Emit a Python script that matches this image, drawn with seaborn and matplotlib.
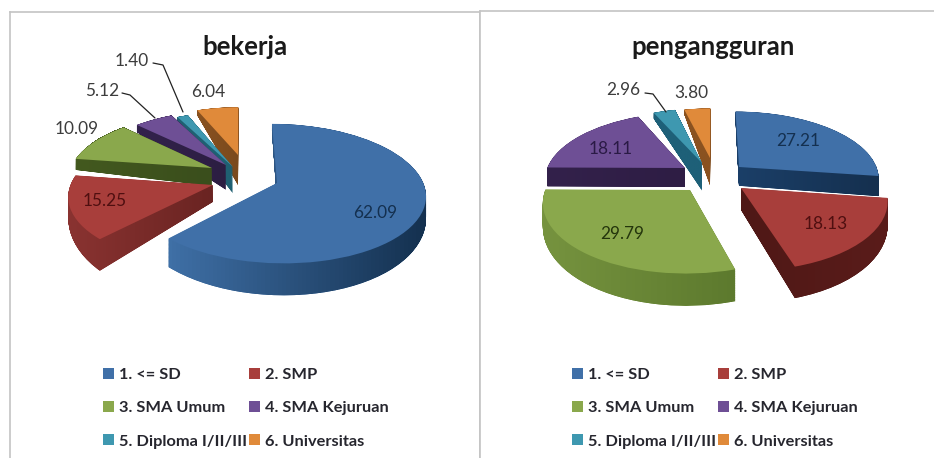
import numpy as np
import matplotlib
matplotlib.use("Agg")
import matplotlib.pyplot as plt
from matplotlib.path import Path
from matplotlib.transforms import Transform
import seaborn as sns

kategori = ["1. <= SD", "2. SMP", "3. SMA Umum", "4. SMA Kejuruan", "5. Diploma I/II/III", "6. Universitas"]
bekerja = [62.09, 15.25, 10.09, 5.12, 1.40, 6.04]
pengangguran = [27.21, 18.13, 29.79, 18.11, 2.96, 3.80]

warna = ["#4070A8", "#A83E3B", "#8AA84C", "#6E4F95", "#3E98B0", "#E08A3A"]
# warna sisi (kiri, kanan)
sisi1 = [("#3F70A6", "#14304F"), ("#8A3331", "#6A2422"), ("#43591F", "#3A4E1C"),
         ("#33224C", "#2C1E42"), ("#1F6072", "#1F6072"), ("#8A5220", "#7A4A1E")]
sisi2 = [("#1B3F68", "#15304F"), ("#4F1816", "#5A1C1A"), ("#76933F", "#5D7A2E"),
         ("#33214B", "#2E1D44"), ("#1E6078", "#1E6078"), ("#8A5220", "#8A5220")]

sns.set_theme(style="white")
plt.rcParams["font.family"] = ["Lato", "DejaVu Sans"]


class Proyeksi(Transform):
    # bidang pie -> piksel, dengan perspektif
    input_dims = 2
    output_dims = 2

    def __init__(self, cx, cy, a, b, k, z=0, m=0):
        super().__init__()
        self.cx, self.cy, self.a, self.b, self.k, self.z, self.m = cx, cy, a, b, k, z, m

    def transform_non_affine(self, xy):
        xy = np.asarray(xy)
        w = 1 + self.k * xy[:, 1]
        sx = self.cx + self.a * xy[:, 0] / w
        sy = self.cy - self.b * xy[:, 1] / w + self.z * np.clip(1 - self.m * xy[:, 1], 0, None)
        return np.column_stack([sx, sy])

    def transform_path_non_affine(self, path):
        return Path(self.transform_non_affine(path.vertices), path.codes)


def ke_bidang(px, py, cx, cy, a, b, k):
    d = cy - py
    y = d / (b - k * d)
    x = (px - cx) * (1 + k * y) / a
    return x, y


def gambar_pie(ax, nilai, puncak, jari, urutan, sisi, tebal, geom):
    cx, cy, a, b, k = geom
    pusat = [ke_bidang(p[0], p[1], cx, cy, a, b, k) for p in puncak]
    kumpulan = [[] for _ in nilai]
    for t in np.arange(1, 0, -0.02):
        wedges, _ = ax.pie(nilai, startangle=90, counterclock=False, colors=[s[0] for s in sisi])
        for i, w in enumerate(wedges):
            proy = Proyeksi(cx, cy, a, b, k, t * tebal[i][0], tebal[i][1])
            w.set_center(pusat[i])
            w.set_radius(jari[i])
            w.set_transform(proy + ax.transData)
            w.set_zorder(urutan[i] + 0.1)
            w.set_clip_on(False)
            w.set_linewidth(0)
            kumpulan[i].append(proy.transform_path(w.get_path()))
    wedges, _ = ax.pie(nilai, startangle=90, counterclock=False, colors=warna)
    proy = Proyeksi(cx, cy, a, b, k)
    for i, w in enumerate(wedges):
        w.set_center(pusat[i])
        w.set_radius(jari[i])
        w.set_transform(proy + ax.transData)
        w.set_zorder(urutan[i] + 0.5)
        w.set_clip_on(False)
        w.set_linewidth(0)
    # gradasi di sisi
    for i, paths in enumerate(kumpulan):
        gab = Path.make_compound_path(*paths)
        x0, y0 = gab.vertices.min(axis=0)
        x1, y1 = gab.vertices.max(axis=0)
        c0 = np.array(matplotlib.colors.to_rgb(sisi[i][0]))
        c1 = np.array(matplotlib.colors.to_rgb(sisi[i][1]))
        g = np.linspace(0, 1, 64)[None, :, None]
        img = ax.imshow(c0 + (c1 - c0) * g, extent=[x0, x1, y1, y0], aspect="auto",
                        zorder=urutan[i] + 0.3)
        img.set_clip_path(gab, ax.transData)
    return wedges


def buat_panel(rect, judul, jx, nilai, puncak, jari, urutan, sisi, tebal, geom, posisi, warna_teks, garis, lx, spines):
    fig_w, fig_h = 934, 458
    x0, y0, x1, y1 = rect
    ax = fig.add_axes([x0 / fig_w, 1 - y1 / fig_h, (x1 - x0) / fig_w, (y1 - y0) / fig_h])
    wedges = gambar_pie(ax, nilai, puncak, jari, urutan, sisi, tebal, geom)
    ax.set_aspect("auto")
    ax.set_xlim(x0, x1)
    ax.set_ylim(y1, y0)
    ax.set_xticks([])
    ax.set_yticks([])
    ax.set_frame_on(True)
    for nama, s in ax.spines.items():
        s.set_visible(nama in spines)
        s.set_color("#C4C4C4")
        s.set_linewidth(1.2)
    ax.text(jx, 47, judul, ha="center", va="center", fontsize=18.5, fontweight="bold", color="#1A1A1A")
    for v, p, c in zip(nilai, posisi, warna_teks):
        ax.text(p[0], p[1] + 2, f"{v:.2f}", ha="center", va="center", fontsize=12.4, color=c, zorder=20)
    for g in garis:
        ax.plot([t[0] for t in g], [t[1] for t in g], color="#222222", lw=0.9, zorder=20)
    urut = [0, 2, 4, 1, 3, 5]
    leg = ax.legend([wedges[i] for i in urut], [kategori[i] for i in urut], ncol=2, frameon=False,
                    loc="upper left", bbox_to_anchor=(lx, 1 - (368 - y0) / (y1 - y0)),
                    bbox_transform=ax.transAxes, borderpad=0, borderaxespad=0,
                    handlelength=0.65, handleheight=0.65, handletextpad=0.3,
                    labelspacing=1.16, columnspacing=0.15,
                    prop={"size": 11.8, "weight": "bold"})
    for t in leg.get_texts():
        t.set_color("#26262E")
    return ax


fig = plt.figure(figsize=(9.34, 4.58), dpi=100, facecolor="white")

buat_panel((10, 12, 480, 458), "bekerja", 245, bekerja,
           [(277, 183), (213, 185), (212, 168), (226, 165), (233, 167), (238, 155)],
           [1, 0.97, 1, 1, 1, 0.9], [6, 5, 4, 3, 2, 1], sisi1,
           [(18, 0.7), (14, 1.5), (24, 2.0), (29, 0.86), (30, 0.86), (40, 0.75)],
           (239, 176, 144, 66, 0.15),
           [(375, 211), (105, 199), (77, 127), (102, 89), (132, 59), (208, 90)],
           ["#14304F", "#4F0F10", "#3C3C3C", "#3C3C3C", "#3C3C3C", "#3C3C3C"],
           [[(153, 63), (163, 65), (183, 112)], [(122, 93), (130, 95), (155, 118)]],
           (103 - 10) / 470, ("left", "top", "right"))

buat_panel((480, 11, 934, 458), "pengangguran", 713, pengangguran,
           [(739, 167), (741, 188), (690, 190), (685, 168), (702, 163), (710, 158)],
           [1, 1, 1, 1, 1, 0.92], [4, 6, 5, 3, 2, 1], sisi2,
           [(20, 0.5), (20, 0.5), (20, 0.5), (20, 0.5), (32, 0.75), (34, 0.75)],
           (712, 175, 140, 66, 0.15),
           [(798, 139), (826, 222), (622, 232), (611, 147), (623, 88), (691, 91)],
           ["#14304F", "#4F0F10", "#24350C", "#2A1A45", "#3C3C3C", "#3C3C3C"],
           [[(645, 93), (653, 94), (666, 112)]],
           (572 - 480) / 454, ("left", "top"))

fig.savefig("out.png", dpi=100)
